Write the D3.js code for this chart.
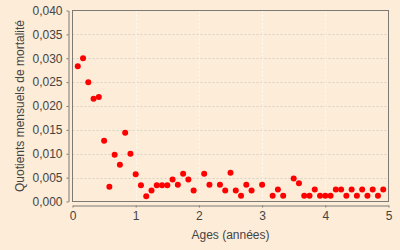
<!DOCTYPE html>
<html>
<head>
<meta charset="utf-8">
<script src="https://cdn.jsdelivr.net/npm/d3@7"></script>
<style>
  html, body { margin: 0; padding: 0; background: #fcecd8; }
  svg text { font-family: "Liberation Sans", Arial, sans-serif; }
</style>
</head>
<body>
<div id="chart"></div>
<script>
// --- Data (age in months, monthly mortality quotient) ---
const ageMonths = [1, 2, 3, 4, 5, 6, 7, 8, 9, 10, 11, 12, 13, 14, 15, 16, 17, 18, 19, 20,
  21, 22, 23, 25, 26, 28, 29, 30, 31, 32, 33, 34, 36, 38, 39, 40, 42, 43, 44, 45,
  46, 47, 48, 49, 50, 51, 52, 53, 54, 55, 56, 57, 58, 59];
const quotients = [0.0283, 0.0300, 0.0250, 0.0215, 0.0219, 0.0127, 0.0031, 0.0098, 0.0077, 0.0144,
  0.0100, 0.0057, 0.0034, 0.0011, 0.0023, 0.0034, 0.0034, 0.0034, 0.0046, 0.0035,
  0.0058, 0.0046, 0.0023, 0.0058, 0.0035, 0.0035, 0.0023, 0.0060, 0.0023, 0.0012,
  0.0035, 0.0023, 0.0035, 0.0012, 0.0025, 0.0012, 0.0048, 0.0038, 0.0012, 0.0012,
  0.0025, 0.0012, 0.0012, 0.0012, 0.0025, 0.0025, 0.0012, 0.0025, 0.0012, 0.0025,
  0.0012, 0.0025, 0.0012, 0.0025];
const xTicks = [0, 1, 2, 3, 4, 5];
const yTicks = [0, 0.005, 0.010, 0.015, 0.020, 0.025, 0.030, 0.035, 0.040];
const xTitle = "Ages (années)";
const yTitle = "Quotients mensuels de mortalité";

const points = ageMonths.map((m, i) => ({ age: m / 12, q: quotients[i] }));

// --- Layout ---
const W = 400, H = 250;
const plot = { left: 72.5, right: 388.5, top: 10.5, bottom: 201.5 };
const bg = "#fcecd8";
const lineGray = "#7d7a74";
const textGray = "#444";

const svg = d3.select("#chart").append("svg")
  .attr("width", W)
  .attr("height", H);

svg.append("rect").attr("width", W).attr("height", H).attr("fill", bg);

// --- Scales ---
const x = d3.scaleLinear().domain([0, 5]).range([plot.left, plot.right]);
const y = d3.scaleLinear().domain([0, 0.04]).range([plot.bottom, plot.top]);

const frLocale = d3.formatLocale({ decimal: ",", thousands: " ", grouping: [3], currency: ["", " €"] });
const fmtY = frLocale.format(".3f");

// --- Gridlines ---
svg.append("g")
  .selectAll("line")
  .data(yTicks.filter(t => t > 0 && t < 0.04))
  .join("line")
  .attr("x1", plot.left).attr("x2", plot.right)
  .attr("y1", d => Math.round(y(d)) + 0.5).attr("y2", d => Math.round(y(d)) + 0.5)
  .attr("stroke", "#d9d2c6")
  .attr("stroke-dasharray", "2,2");

svg.append("g")
  .selectAll("line")
  .data(xTicks.filter(t => t > 0 && t < 5))
  .join("line")
  .attr("x1", d => Math.round(x(d)) + 0.5).attr("x2", d => Math.round(x(d)) + 0.5)
  .attr("y1", plot.top).attr("y2", plot.bottom)
  .attr("stroke", "#fffaf2")
  .attr("stroke-dasharray", "2,2");

// --- Plot outline ---
svg.append("rect")
  .attr("x", plot.left).attr("y", plot.top)
  .attr("width", plot.right - plot.left)
  .attr("height", plot.bottom - plot.top)
  .attr("fill", "none")
  .attr("stroke", lineGray);

// --- Axes (offset 4px from the plot area) ---
const yAxis = svg.append("g")
  .attr("transform", `translate(${plot.left - 4},0)`)
  .call(d3.axisLeft(y).tickValues(yTicks).tickFormat(fmtY).tickSize(2).tickSizeOuter(0).tickPadding(4));

const xAxis = svg.append("g")
  .attr("transform", `translate(0,${plot.bottom + 4})`)
  .call(d3.axisBottom(x).tickValues(xTicks).tickFormat(d3.format("d")).tickSize(2).tickSizeOuter(0).tickPadding(4));

[yAxis, xAxis].forEach(g => {
  g.select(".domain").attr("stroke", lineGray);
  g.selectAll(".tick line").attr("stroke", lineGray);
  g.selectAll(".tick text")
    .attr("fill", textGray)
    .style("font-size", "12px")
    .style("font-family", "'Liberation Sans', Arial, sans-serif");
});

// --- Axis titles ---
svg.append("text")
  .attr("x", (plot.left + plot.right) / 2)
  .attr("y", 239)
  .attr("text-anchor", "middle")
  .attr("fill", textGray)
  .style("font-size", "12px")
  .text(xTitle);

svg.append("text")
  .attr("transform", `translate(24,${(plot.top + plot.bottom) / 2}) rotate(-90)`)
  .attr("text-anchor", "middle")
  .attr("fill", textGray)
  .style("font-size", "12px")
  .text(yTitle);

// --- Points ---
svg.append("g")
  .selectAll("circle")
  .data(points)
  .join("circle")
  .attr("cx", d => x(d.age))
  .attr("cy", d => y(d.q))
  .attr("r", 3)
  .attr("fill", "#ff0000");
</script>
</body>
</html>
